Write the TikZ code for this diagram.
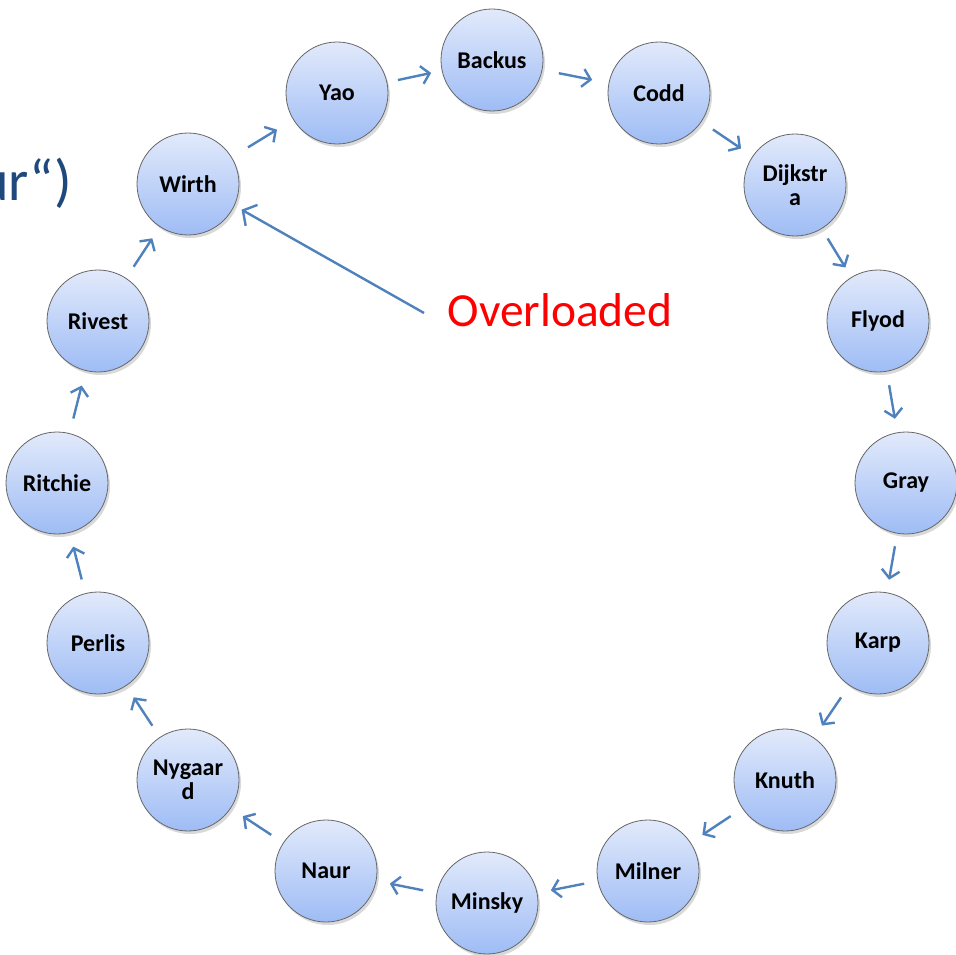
\documentclass[tikz,border=0pt]{standalone}
\usepackage{fontspec}
\setmainfont{Carlito}
\usetikzlibrary{arrows.meta,calc,shadows}
\definecolor{flowblue}{RGB}{79,129,189}
\definecolor{titleblue}{RGB}{31,73,125}
\definecolor{ballTop}{RGB}{226,234,251}
\definecolor{ballBottom}{RGB}{158,188,245}
\tikzset{
  ball/.style={circle, minimum size=102pt, inner sep=0pt,
    draw=black!60, line width=0.8pt,
    top color=ballTop, bottom color=ballBottom,
    drop shadow={shadow xshift=2pt, shadow yshift=-3pt, opacity=0.25, fill=black!60},
    font=\fontsize{24}{24.5}\selectfont\bfseries, align=center},
  flow/.style={draw=flowblue, line width=2.4pt,
    -{Straight Barb[length=8pt,width=18pt,line width=2.4pt]}},
}
\begin{document}
\begin{tikzpicture}[x=1pt,y=-1pt]
\useasboundingbox (0,0) rectangle (956,955);

% ring of names
\node[ball] (backus)   at (492,60)  {Backus};
\node[ball] (codd)     at (659,93)  {Codd};
\node[ball] (dijkstra) at (795,185) {Dijkstr\\a};
\node[ball] (flyod)    at (878,321) {Flyod};
\node[ball] (gray)     at (906,483) {Gray};
\node[ball] (karp)     at (878,643) {Karp};
\node[ball] (knuth)    at (785,780) {Knuth};
\node[ball] (milner)   at (648,871) {Milner};
\node[ball] (minsky)   at (487,903) {Minsky};
\node[ball] (naur)     at (326,871) {Naur};
\node[ball] (nygaard)  at (188,780) {Nygaar\\d};
\node[ball] (perlis)   at (98,643)  {Perlis};
\node[ball] (ritchie)  at (57,483)  {Ritchie};
\node[ball] (rivest)   at (98,321)  {Rivest};
\node[ball] (wirth)    at (188,184) {Wirth};
\node[ball] (yao)      at (337,93)  {Yao};

% short arrows centred in the gaps between neighbours
\foreach \a/\b in {yao/backus, backus/codd, codd/dijkstra, dijkstra/flyod,
                   flyod/gray, gray/karp, karp/knuth, knuth/milner,
                   milner/minsky, minsky/naur, naur/nygaard, nygaard/perlis,
                   perlis/ritchie, ritchie/rivest, rivest/wirth, wirth/yao}
  \draw[flow] ($($(\a)!0.5!(\b)$)!17pt!(\a)$) -- ($($(\a)!0.5!(\b)$)!17pt!(\b)$);

% annotation
\node[text=red, font=\fontsize{47.5}{49}\selectfont, anchor=center] (over) at (560,310) {Overloaded};
\draw[draw=flowblue, line width=2.4pt, shorten >=8pt,
      -{Straight Barb[length=10pt,width=24pt,line width=2.4pt]}]
  (over.west) ++(-20pt,-3pt) coordinate (overtail) -- (wirth.-25);

% fragment of a heading running off the left edge
\node[text=titleblue, font=\fontsize{58}{60}\selectfont, anchor=east, inner sep=0pt] (heading) at (72,183) {ur“)};
\end{tikzpicture}
\end{document}
